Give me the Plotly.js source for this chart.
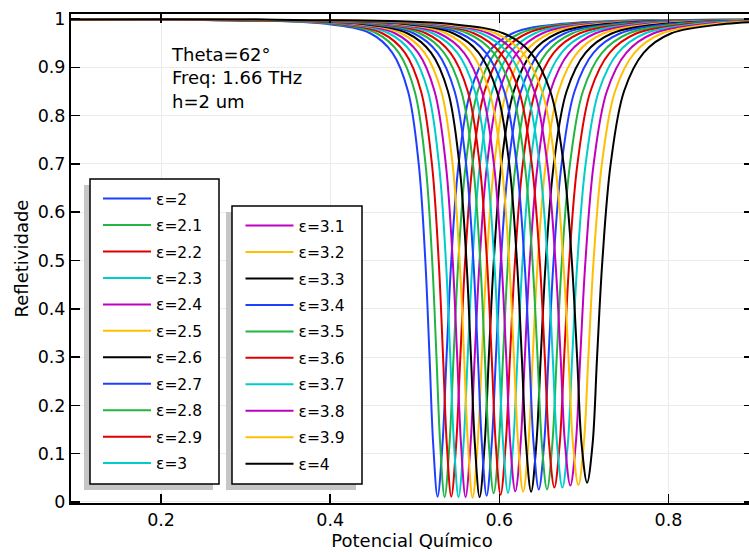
<!DOCTYPE html>
<html><head><meta charset="utf-8">
<script src="https://cdn.plot.ly/plotly-3.0.1.min.js"></script>
<style>html,body{margin:0;padding:0;overflow:hidden;background:#fff}#chart{width:753px;height:552px}</style>
</head><body><div id="chart"></div>
<script>
// Legend labels (permittivity values)
const epsLabels = ['ε=2','ε=2.1','ε=2.2','ε=2.3','ε=2.4','ε=2.5','ε=2.6','ε=2.7','ε=2.8','ε=2.9','ε=3',
                   'ε=3.1','ε=3.2','ε=3.3','ε=3.4','ε=3.5','ε=3.6','ε=3.7','ε=3.8','ε=3.9','ε=4'];
// Position and depth of each reflectivity dip
const dipX = [0.5270,0.5353,0.5432,0.5518,0.5601,0.5684,0.5767,0.5850,0.5933,0.6015,0.6103,
              0.6189,0.6282,0.6376,0.6467,0.6564,0.6651,0.6746,0.6840,0.6935,0.7038];
const dipY = [0.011,0.010,0.011,0.010,0.010,0.009,0.010,0.013,0.018,0.015,0.019,
              0.022,0.021,0.021,0.026,0.026,0.030,0.030,0.034,0.035,0.040];
// Reflectivity levels at which the falling (left) and rising (right) flanks were read
const leftLevels  = [0.999, 0.998, 0.99, 0.97, 0.93, 0.85, 0.7, 0.5, 0.3, 0.12];
const rightLevels = [0.12, 0.3, 0.5, 0.7, 0.85, 0.93, 0.97, 0.99];
const xStart = 0.0935;
const xEnd = 0.9;
// x where each curve's falling flank crosses leftLevels (after the start point)
const leftX = [
 [0.2488,0.3956,0.4478,0.4736,0.4921,0.5047,0.5125,0.5175,0.5218],
 [0.2537,0.4023,0.4552,0.4812,0.5000,0.5127,0.5206,0.5257,0.5301],
 [0.2582,0.4086,0.4621,0.4885,0.5075,0.5203,0.5283,0.5335,0.5379],
 [0.2634,0.4156,0.4697,0.4964,0.5157,0.5286,0.5368,0.5420,0.5464],
 [0.2683,0.4223,0.4771,0.5041,0.5235,0.5367,0.5449,0.5502,0.5547],
 [0.2732,0.4290,0.4844,0.5117,0.5314,0.5447,0.5530,0.5584,0.5629],
 [0.2782,0.4357,0.4917,0.5194,0.5393,0.5527,0.5611,0.5665,0.5711],
 [0.2831,0.4424,0.4991,0.5270,0.5472,0.5607,0.5693,0.5747,0.5794],
 [0.2880,0.4491,0.5064,0.5347,0.5551,0.5688,0.5774,0.5829,0.5876],
 [0.2928,0.4557,0.5137,0.5422,0.5628,0.5767,0.5854,0.5910,0.5958],
 [0.2982,0.4629,0.5215,0.5504,0.5712,0.5852,0.5940,0.5997,0.6045],
 [0.3034,0.4699,0.5291,0.5583,0.5794,0.5936,0.6025,0.6082,0.6130],
 [0.3094,0.4776,0.5375,0.5670,0.5883,0.6026,0.6116,0.6173,0.6223],
 [0.3154,0.4854,0.5459,0.5757,0.5972,0.6117,0.6208,0.6266,0.6316],
 [0.3211,0.4929,0.5540,0.5842,0.6059,0.6205,0.6297,0.6356,0.6406],
 [0.3274,0.5010,0.5628,0.5932,0.6152,0.6300,0.6392,0.6452,0.6503],
 [0.3327,0.5081,0.5705,0.6012,0.6235,0.6384,0.6478,0.6538,0.6589],
 [0.3388,0.5160,0.5790,0.6101,0.6325,0.6476,0.6571,0.6632,0.6683],
 [0.3449,0.5238,0.5875,0.6188,0.6415,0.6568,0.6663,0.6725,0.6777],
 [0.3510,0.5317,0.5960,0.6277,0.6506,0.6660,0.6756,0.6818,0.6871],
 [0.3579,0.5404,0.6053,0.6373,0.6604,0.6760,0.6857,0.6920,0.6973]
];
// x where each curve's rising flank crosses rightLevels
const rightX = [
 [0.5328,0.5376,0.5432,0.5519,0.5659,0.5866,0.6153,0.6735],
 [0.5411,0.5459,0.5516,0.5604,0.5744,0.5952,0.6241,0.6827],
 [0.5490,0.5539,0.5596,0.5684,0.5825,0.6035,0.6325,0.6915],
 [0.5577,0.5626,0.5683,0.5772,0.5914,0.6124,0.6417,0.7010],
 [0.5660,0.5709,0.5767,0.5856,0.5999,0.6211,0.6505,0.7102],
 [0.5744,0.5793,0.5851,0.5941,0.6084,0.6298,0.6594,0.7194],
 [0.5827,0.5876,0.5935,0.6025,0.6170,0.6384,0.6682,0.7285],
 [0.5910,0.5960,0.6019,0.6110,0.6255,0.6471,0.6770,0.7377],
 [0.5994,0.6044,0.6103,0.6194,0.6340,0.6558,0.6859,0.7469],
 [0.6076,0.6126,0.6186,0.6278,0.6425,0.6643,0.6946,0.7560],
 [0.6164,0.6215,0.6275,0.6367,0.6515,0.6735,0.7039,0.7657],
 [0.6251,0.6302,0.6361,0.6455,0.6603,0.6824,0.7131,0.7752],
 [0.6344,0.6395,0.6455,0.6549,0.6699,0.6921,0.7229,0.7854],
 [0.6438,0.6490,0.6550,0.6645,0.6795,0.7019,0.7328,0.7957],
 [0.6530,0.6582,0.6642,0.6737,0.6889,0.7113,0.7425,0.8057],
 [0.6627,0.6679,0.6740,0.6836,0.6988,0.7214,0.7527,0.8162],
 [0.6714,0.6767,0.6828,0.6924,0.7077,0.7304,0.7619,0.8258],
 [0.6810,0.6862,0.6924,0.7021,0.7175,0.7403,0.7720,0.8362],
 [0.6904,0.6957,0.7019,0.7116,0.7271,0.7501,0.7819,0.8465],
 [0.6999,0.7053,0.7115,0.7213,0.7368,0.7599,0.7919,0.8569],
 [0.7103,0.7156,0.7219,0.7317,0.7474,0.7706,0.8028,0.8681]
];
// Reflectivity at the right end of the axis (x = 0.9)
const endY = [0.9986,0.9985,0.9984,0.9983,0.9982,0.9981,0.9980,0.9978,0.9977,0.9975,0.9974,
              0.9972,0.9969,0.9967,0.9964,0.9961,0.9957,0.9953,0.9949,0.9944,0.9939];
const palette = ['#1f3fff','#21b541','#e00000','#00cccc','#bf00bf','#ffbf00','#000000'];
const yTicks = [0,0.1,0.2,0.3,0.4,0.5,0.6,0.7,0.8,0.9,1];
const xTicks = [0.2,0.4,0.6,0.8];

const FONT = 'DejaVu Sans, Verdana, sans-serif';
const traces = epsLabels.map((name, k) => ({
  type: 'scatter', mode: 'lines', name: name,
  x: [xStart].concat(leftX[k], [dipX[k]], rightX[k], [xEnd]),
  y: leftLevels.concat([dipY[k]], rightLevels, [endY[k]]),
  line: {color: palette[k % palette.length], width: 2, shape: 'spline', smoothing: 1},
  legend: k < 11 ? 'legend' : 'legend2',
  legendgroup: 'g' + k,
  hoverinfo: 'skip'
}));

// pixel -> paper helpers for the plot area (71..753 x, 14..503 y)
const px = v => (v - 71) / 682;
const py = v => (503 - v) / 489;

const box = (x0, y0, x1, y1, fill, line) => ({
  type: 'rect', xref: 'paper', yref: 'paper', layer: 'above',
  x0: px(x0), x1: px(x1), y0: py(y1), y1: py(y0),
  fillcolor: fill, line: line
});

const legendCommon = {
  xanchor: 'left', yanchor: 'top', bgcolor: 'rgba(0,0,0,0)', borderwidth: 0,
  font: {family: FONT, size: 15.5, color: '#000'}, itemwidth: 48,
  traceorder: 'grouped', tracegroupgap: 3.3, itemclick: false, itemdoubleclick: false
};

const axisCommon = {
  showline: true, linecolor: '#000', linewidth: 2, mirror: 'ticks',
  ticks: 'inside', ticklen: 9, tickwidth: 1.5, tickcolor: '#000',
  showgrid: true, gridcolor: '#ebebeb', gridwidth: 1, zeroline: false,
  tickfont: {family: FONT, size: 17.5, color: '#000'}, fixedrange: true
};

const layout = {
  width: 753, height: 552,
  margin: {l: 71, r: 0, t: 14, b: 49},
  paper_bgcolor: '#fff', plot_bgcolor: '#fff',
  font: {family: FONT, color: '#000'},
  showlegend: true,
  xaxis: Object.assign({}, axisCommon, {
    range: [xStart, xEnd], tickmode: 'array', tickvals: xTicks,
    title: {text: 'Potencial Químico', font: {family: FONT, size: 18, color: '#000'}, standoff: 2}
  }),
  yaxis: Object.assign({}, axisCommon, {
    range: [-0.0021, 1.0104], tickmode: 'array', tickvals: yTicks,
    title: {text: 'Refletividade', font: {family: FONT, size: 18, color: '#000'}, standoff: 4}
  }),
  legend: Object.assign({}, legendCommon, {x: px(98), y: py(182)}),
  legend2: Object.assign({}, legendCommon, {x: px(240.5), y: py(209)}),
  shapes: [
    box(84, 185, 213, 490, '#c6c6c6', {width: 0}),
    box(90, 179, 219, 484, '#ffffff', {color: '#000', width: 1.5}),
    box(226, 212, 356, 490, '#c6c6c6', {width: 0}),
    box(232, 206, 362, 484, '#ffffff', {color: '#000', width: 1.5})
  ],
  annotations: [{
    xref: 'paper', yref: 'paper', x: px(169), y: py(42), xanchor: 'left', yanchor: 'top',
    align: 'left', showarrow: false,
    text: 'Theta=62°<br>Freq: 1.66 THz<br>h=2 um',
    font: {family: FONT, size: 18, color: '#000'}
  }]
};

Plotly.newPlot('chart', traces, layout, {displayModeBar: false, staticPlot: true});
</script></body></html>
